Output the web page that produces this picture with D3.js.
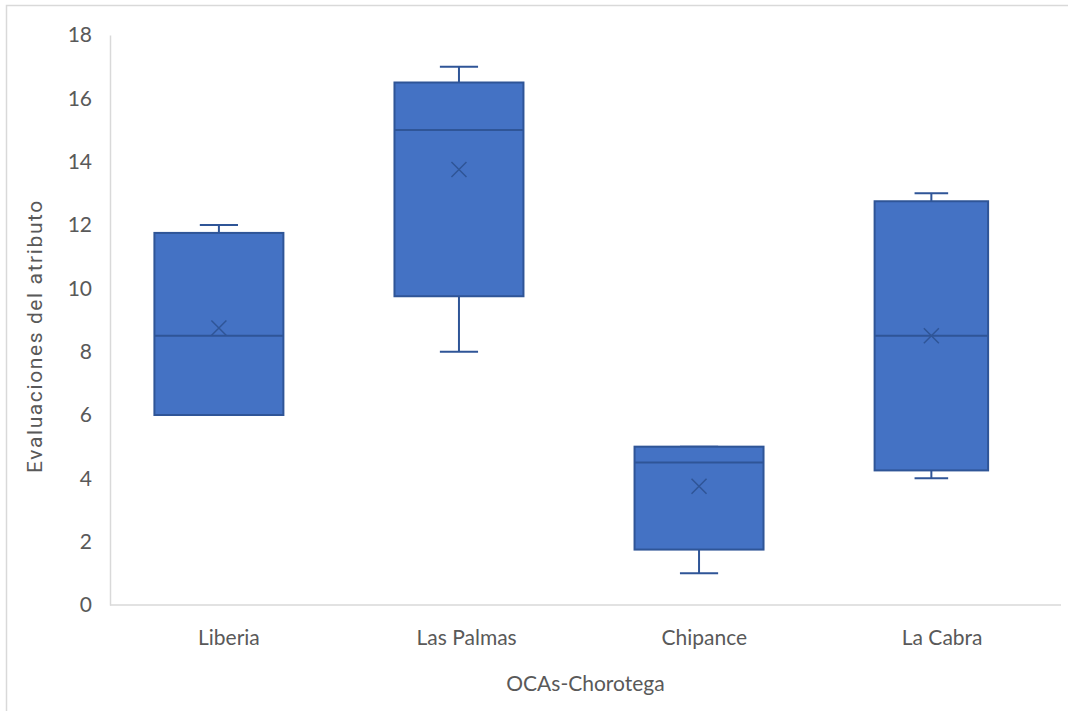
<!DOCTYPE html>
<html>
<head>
<meta charset="utf-8">
<script src="https://cdn.jsdelivr.net/npm/d3@7"></script>
<style>
  html, body { margin: 0; padding: 0; background: #ffffff; }
  svg { display: block; }
</style>
</head>
<body>
<div id="chart"></div>
<script>
// Five-number summaries plus mean for each OCA
const categories = ["Liberia", "Las Palmas", "Chipance", "La Cabra"];
const minValues    = [6, 8, 1, 4];
const q1Values     = [6, 9.75, 1.75, 4.25];
const medianValues = [8.5, 15, 4.5, 8.5];
const q3Values     = [11.75, 16.5, 5, 12.75];
const maxValues    = [12, 17, 5, 13];
const meanValues   = [8.75, 13.75, 3.75, 8.5];
const yTicks = [0, 2, 4, 6, 8, 10, 12, 14, 16, 18];

const xTitle = "OCAs-Chorotega";
const yTitle = "Evaluaciones del atributo";

// Layout and styling
const W = 1068, H = 711;
const plot = { left: 110, right: 1061, top: 35, bottom: 605 };
const fillColor = "#4472C4";
const lineColor = "#2F5597";
const axisColor = "#D9D9D9";
const textColor = "#595959";
const boxWidthFactor = [1, 1, 1, 0.88];

const svg = d3.select("#chart").append("svg")
  .attr("width", W).attr("height", H);

// Chart frame
svg.append("rect")
  .attr("x", 6.5).attr("y", 5.5)
  .attr("width", W + 10).attr("height", H + 10)
  .attr("fill", "#fff")
  .attr("stroke", axisColor).attr("stroke-width", 1.5);

const y = d3.scaleLinear().domain([0, 18]).range([plot.bottom, plot.top]);

// Category label positions
const xLabel = d3.scaleBand().domain(categories)
  .range([plot.left, plot.right]).padding(0);

// Box positions
const xBox = d3.scaleBand().domain(categories)
  .range([plot.left, 1048]).paddingInner(0.4627).paddingOuter(0.185);

// Y axis
const yAxis = d3.axisLeft(y).tickValues(yTicks).tickSize(0).tickPadding(18);
const gy = svg.append("g").attr("transform", `translate(${plot.left},0)`).call(yAxis);
gy.select(".domain").attr("stroke", axisColor).attr("stroke-width", 1.5);
gy.selectAll("text")
  .attr("fill", textColor)
  .style("font-family", "Lato, 'Noto Sans', sans-serif")
  .style("font-size", "21px");

// X axis
const xAxis = d3.axisBottom(xLabel).tickSize(0).tickPadding(25);
const gx = svg.append("g").attr("transform", `translate(0,${plot.bottom})`).call(xAxis);
gx.select(".domain").attr("stroke", axisColor).attr("stroke-width", 1.5)
  .attr("d", `M${plot.left},0H${plot.right}`);
gx.selectAll("text")
  .attr("fill", textColor)
  .style("font-family", "Lato, 'Noto Sans', sans-serif")
  .style("font-size", "21px");

// Axis titles
svg.append("text")
  .attr("x", (plot.left + plot.right) / 2).attr("y", 691)
  .attr("text-anchor", "middle")
  .attr("fill", textColor)
  .style("font-family", "Lato, 'Noto Sans', sans-serif")
  .style("font-size", "21px")
  .text(xTitle);

svg.append("text")
  .attr("transform", `translate(42,336) rotate(-90)`)
  .attr("text-anchor", "middle")
  .attr("fill", textColor)
  .style("font-family", "Roboto, 'Liberation Sans', sans-serif")
  .style("font-size", "21px")
  .style("letter-spacing", "1.6px")
  .text(yTitle);

// Boxes
const data = categories.map((c, i) => ({
  cat: c,
  min: minValues[i], q1: q1Values[i], med: medianValues[i],
  q3: q3Values[i], max: maxValues[i], mean: meanValues[i],
  w: xBox.bandwidth() * boxWidthFactor[i]
}));

const g = svg.append("g");
const boxes = g.selectAll("g.box").data(data).enter().append("g").attr("class", "box");

boxes.each(function(d) {
  const sel = d3.select(this);
  const left = xBox(d.cat);
  const cx = left + d.w / 2;
  const capHalf = d.w * 0.148;

  // whiskers
  sel.append("line")
    .attr("x1", cx).attr("x2", cx)
    .attr("y1", y(d.max)).attr("y2", y(d.q3))
    .attr("stroke", lineColor).attr("stroke-width", 2);
  sel.append("line")
    .attr("x1", cx).attr("x2", cx)
    .attr("y1", y(d.q1)).attr("y2", y(d.min))
    .attr("stroke", lineColor).attr("stroke-width", 2);
  sel.append("line")
    .attr("x1", cx - capHalf).attr("x2", cx + capHalf)
    .attr("y1", y(d.max)).attr("y2", y(d.max))
    .attr("stroke", lineColor).attr("stroke-width", 2);
  sel.append("line")
    .attr("x1", cx - capHalf).attr("x2", cx + capHalf)
    .attr("y1", y(d.min)).attr("y2", y(d.min))
    .attr("stroke", lineColor).attr("stroke-width", 2);

  // box
  sel.append("rect")
    .attr("x", left).attr("y", y(d.q3))
    .attr("width", d.w).attr("height", y(d.q1) - y(d.q3))
    .attr("fill", fillColor)
    .attr("stroke", lineColor).attr("stroke-width", 2);

  // median
  sel.append("line")
    .attr("x1", left).attr("x2", left + d.w)
    .attr("y1", y(d.med)).attr("y2", y(d.med))
    .attr("stroke", lineColor).attr("stroke-width", 2);

  // mean marker
  const m = 7.5, my = y(d.mean);
  sel.append("path")
    .attr("d", `M${cx - m},${my - m}L${cx + m},${my + m}M${cx - m},${my + m}L${cx + m},${my - m}`)
    .attr("stroke", lineColor).attr("stroke-width", 1.5).attr("fill", "none");
});
</script>
</body>
</html>
